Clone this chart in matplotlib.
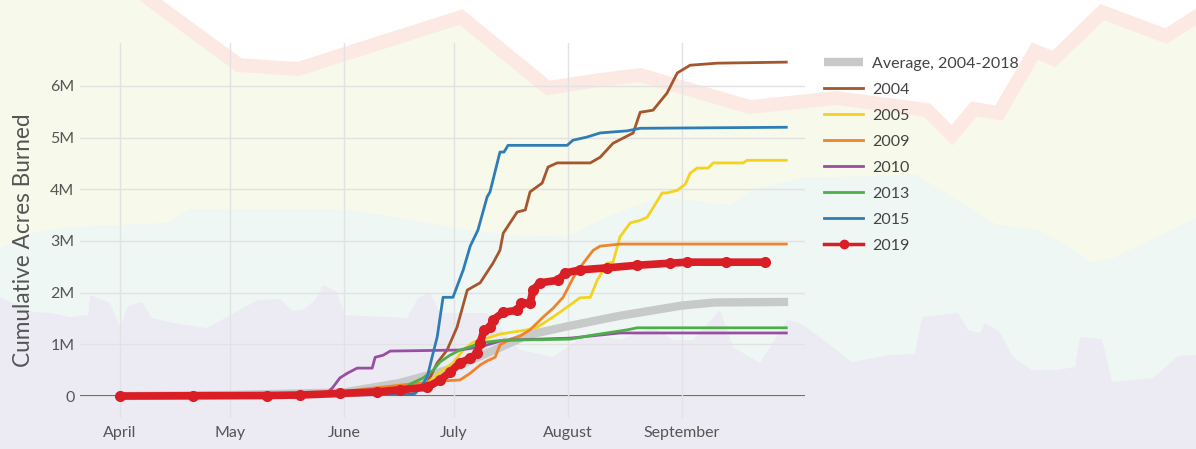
import numpy as np
import matplotlib.pyplot as plt
from matplotlib.lines import Line2D

plt.rcParams['font.family'] = ['Lato', 'DejaVu Sans']

# x = days since April 1, y = cumulative acres burned (millions)
avg_days = [0, 30, 61, 76, 87, 91, 100, 111, 122, 136, 153, 162, 182]
avg_vals = [0, 0.02, 0.07, 0.25, 0.46, 0.55, 0.83, 1.18, 1.35, 1.55, 1.75, 1.81, 1.82]

y2004_days = [0, 61, 78, 83.7, 86.4, 89.1, 91.8, 94.6, 98.1, 101.6, 103.5, 104.4, 108.2, 110.4,
              111.7, 115.0, 116.6, 119.1, 128.1, 130.8, 134.3, 139.8, 141.7, 145.2, 149.0,
              151.8, 155.3, 162.7, 181.5]
y2004_vals = [0, 0.03, 0.08, 0.25, 0.64, 0.89, 1.33, 2.05, 2.19, 2.57, 2.82, 3.15, 3.56, 3.60,
              3.95, 4.12, 4.43, 4.51, 4.51, 4.62, 4.89, 5.09, 5.49, 5.53, 5.86,
              6.25, 6.40, 6.44, 6.46]

y2005_days = [0, 61, 76.3, 83.7, 87.2, 90.7, 93.5, 96.2, 100.0, 103.5, 110.9, 113.6, 118.0, 121.8,
              125.3, 128.1, 130.0, 132.7, 134.3, 136.2, 139.0, 141.7, 143.6, 145.2, 147.7,
              149.0, 151.8, 154.0, 155.3, 157.2, 160.2, 161.6, 169.8, 170.8, 181.5]
y2005_vals = [0, 0.03, 0.08, 0.25, 0.46, 0.64, 0.89, 1.04, 1.12, 1.20, 1.28, 1.33, 1.53, 1.72,
              1.90, 1.91, 2.24, 2.57, 2.59, 3.08, 3.35, 3.40, 3.46, 3.64, 3.93,
              3.93, 3.98, 4.10, 4.31, 4.41, 4.41, 4.51, 4.51, 4.56, 4.56]

y2009_days = [0, 57.2, 76.3, 87.2, 92.6, 95.4, 98.1, 100.0, 102.2, 103.5, 106.3, 109.0, 111.7,
              115.3, 118.0, 120.7, 123.4, 126.2, 128.9, 130.8, 136.2, 181.5]
y2009_vals = [0, 0.06, 0.21, 0.29, 0.31, 0.44, 0.60, 0.68, 0.75, 0.99, 1.10, 1.16, 1.28,
              1.53, 1.70, 1.91, 2.28, 2.57, 2.82, 2.90, 2.94, 2.94]

y2010_days = [0, 55.9, 58.0, 59.9, 61.9, 64.6, 68.7, 69.5, 71.7, 73.6, 92.6, 98.1, 104.4,
              122.6, 136.2, 181.5]
y2010_vals = [0, 0.02, 0.17, 0.35, 0.44, 0.54, 0.54, 0.75, 0.79, 0.87, 0.89, 0.95, 1.08,
              1.12, 1.22, 1.22]

y2013_days = [0, 61, 76.3, 79.0, 82.6, 85.3, 87.2, 89.9, 92.6, 95.4, 98.1, 104.4, 122.6,
              128.9, 138.1, 140.9, 181.5]
y2013_vals = [0, 0.02, 0.04, 0.23, 0.35, 0.50, 0.66, 0.79, 0.89, 0.95, 1.03, 1.08, 1.10,
              1.18, 1.28, 1.32, 1.32]

y2015_days = [0, 61, 78, 80.4, 81.7, 83.7, 85.0, 86.4, 88.0, 90.7, 93.5, 95.4, 97.5, 100.0,
              100.8, 103.5, 104.6, 105.7, 121.8, 123.4, 127.2, 130.8, 138.1, 141.7, 181.5]
y2015_vals = [0, 0.02, 0.03, 0.05, 0.15, 0.37, 0.75, 1.14, 1.91, 1.91, 2.44, 2.90, 3.21, 3.85,
              3.95, 4.72, 4.72, 4.85, 4.85, 4.95, 5.01, 5.09, 5.13, 5.18, 5.20]

y2019_days = [0, 20, 40, 49, 60, 70, 76.3, 83.7, 87.2, 89.9, 92.6, 95.4, 97.3, 98.1, 99.2,
              100.8, 101.6, 104.4, 108.2, 109.3, 111.7, 112.5, 114.4, 119.3, 121.3, 125.3,
              132.7, 140.9, 149.9, 154.5, 165, 175.7]
y2019_vals = [0, 0.005, 0.01, 0.02, 0.05, 0.08, 0.12, 0.17, 0.31, 0.46, 0.64, 0.73, 0.83, 1.03,
              1.28, 1.33, 1.47, 1.62, 1.66, 1.80, 1.80, 2.05, 2.19, 2.24, 2.38, 2.44,
              2.48, 2.53, 2.57, 2.59, 2.59, 2.59]

series = [
    ('2004', y2004_days, y2004_vals, '#a6562c'),
    ('2005', y2005_days, y2005_vals, '#f5d21f'),
    ('2009', y2009_days, y2009_vals, '#f0842c'),
    ('2010', y2010_days, y2010_vals, '#984ea3'),
    ('2013', y2013_days, y2013_vals, '#4daf4a'),
    ('2015', y2015_days, y2015_vals, '#2f7db5'),
]
red = '#d91e26'

months = ['2019-04-01', '2019-05-01', '2019-06-01', '2019-07-01', '2019-08-01', '2019-09-01']
month_labels = ['April', 'May', 'June', 'July', 'August', 'September']
y_ticks = [0, 1, 2, 3, 4, 5, 6]
y_labels = ['0', '1M', '2M', '3M', '4M', '5M', '6M']

# decorative backdrop ridges, in figure pixels (x, y from top)
ridge_x = [140, 172, 239, 298, 461, 548, 600, 640, 750, 836, 927, 952, 974, 999, 1035, 1054, 1102, 1166, 1196]
ridge_y = [-8, 16, 65, 69, 17, 88, 80, 75, 107, 98, 110, 135, 109, 113, 51, 59, 12, 36, 17]
mid_x = [0, 35, 67, 167, 190, 350, 400, 467, 510, 567, 607, 660, 730, 753, 800, 917, 997, 1040, 1092, 1113, 1196]
mid_y = [248, 232, 227, 223, 209, 210, 218, 230, 235, 237, 217, 197, 205, 190, 178, 175, 225, 230, 262, 258, 218]
low_x = [0, 33, 50, 70, 88, 90, 110, 120, 128, 142, 152, 173, 207, 227, 243, 258, 280, 292, 303, 315,
         323, 337, 345, 407, 418, 430, 440, 487, 520, 553, 587, 620, 653, 673, 693, 720, 733, 760,
         787, 800, 817, 852, 890, 915, 922, 958, 968, 980, 985, 1000, 1013, 1032, 1057, 1075, 1080,
         1102, 1112, 1153, 1178, 1196]
low_y = [297, 312, 313, 317, 315, 295, 303, 327, 306, 302, 318, 323, 328, 317, 308, 300, 299, 311, 310, 300,
         285, 292, 315, 318, 298, 292, 313, 313, 350, 357, 333, 340, 327, 340, 340, 310, 347, 363,
         320, 323, 335, 362, 355, 354, 317, 313, 330, 333, 323, 332, 357, 370, 370, 367, 337,
         339, 382, 378, 356, 355]

fig = plt.figure(figsize=(11.96, 4.49), dpi=100)

bg = fig.add_axes([0, 0, 1, 1])
bg.set_xlim(0, 1196)
bg.set_ylim(449, 0)
bg.axis('off')
bg.fill(np.r_[0, ridge_x, 1196, 0], np.r_[-10, ridge_y, 460, 460], color='#f7f9ea', lw=0)
bg.fill(np.r_[mid_x, 1196, 0], np.r_[mid_y, 460, 460], color='#eff7f5', lw=0)
bg.fill(np.r_[low_x, 1196, 0], np.r_[low_y, 460, 460], color='#ecebf4', lw=0)
bg.plot(ridge_x, ridge_y, color='#fde9e4', lw=10, solid_joinstyle='miter')

ax = fig.add_axes([80 / 1196, 31 / 449, 725 / 1196, 375 / 449])
ax.patch.set_alpha(0)
start = np.datetime64('2019-04-01')
month_pos = (np.array(months, dtype='datetime64[D]') - start).astype(int)

ax.plot(avg_days, avg_vals, color='#c8c9c9', lw=6, solid_capstyle='butt',
        label='Average, 2004-2018', zorder=2)
for name, d, v, c in series:
    ax.plot(d, v, color=c, lw=2, label=name, zorder=3)
ax.plot(y2019_days, y2019_vals, color=red, lw=5.5, marker='o', ms=7,
        solid_capstyle='round', solid_joinstyle='round', zorder=4)

ax.axhline(0, color='#444444', lw=1.3, zorder=1.5)
ax.set_xlim(-10.9, 186.6)
ax.set_ylim(-0.425, 6.83)
ax.set_xticks(month_pos)
ax.set_xticklabels(month_labels)
ax.set_yticks(y_ticks)
ax.set_yticklabels(y_labels)
ax.grid(True, color='#e2e2e2', lw=1, zorder=0)
ax.tick_params(length=0, labelsize=11.5, labelcolor='#555555')
ax.tick_params(axis='x', pad=6)
ax.tick_params(axis='y', pad=4)
for s in ax.spines.values():
    s.set_visible(False)
ax.set_ylabel('Cumulative Acres Burned', fontsize=16.3, color='#555555')
ax.yaxis.set_label_coords(-0.064, 0.475)

h, l = ax.get_legend_handles_labels()
h.append(Line2D([], [], color=red, lw=2.5, marker='o', ms=6))
l.append('2019')
fig.legend(h, l, loc='upper left', bbox_to_anchor=(818 / 1196, 1 - 50 / 449),
           frameon=False, fontsize=11.5, labelcolor='#444444', handlelength=2.4,
           handletextpad=0.6, labelspacing=0.74, borderaxespad=0)

fig.savefig('out.png', dpi=100)
